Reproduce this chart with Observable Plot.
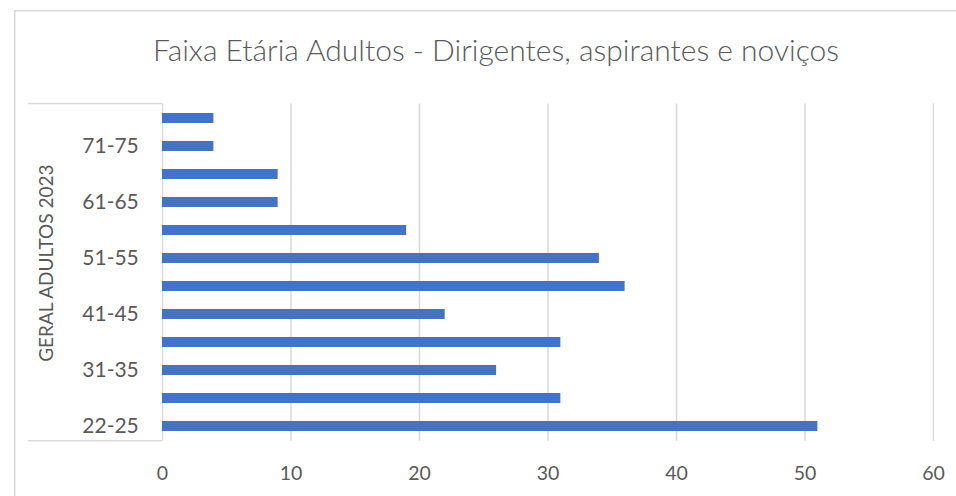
<!DOCTYPE html>
<html>
<head>
<meta charset="utf-8">
<script src="https://cdn.jsdelivr.net/npm/d3@7"></script>
<script src="https://cdn.jsdelivr.net/npm/@observablehq/plot@0.6"></script>
<style>
  html, body { margin: 0; padding: 0; background: #ffffff; }
  #chart { width: 956px; height: 496px; overflow: hidden; }
</style>
</head>
<body>
<div id="chart"></div>
<script>
// ---- data ----
const categories = ["22-25", "26-30", "31-35", "36-40", "41-45", "46-50", "51-55", "56-60", "61-65", "66-70", "71-75", "76-80"];
const values = [51, 31, 26, 31, 22, 36, 34, 19, 9, 9, 4, 4];
const xTicks = [0, 10, 20, 30, 40, 50, 60];
const shownCategoryLabels = ["22-25", "31-35", "41-45", "51-55", "61-65", "71-75"];
const titleText = "Faixa Etária Adultos - Dirigentes, aspirantes e noviços";
const groupLabel = "GERAL ADULTOS 2023";

const rows = categories.map((c, i) => ({ category: c, value: values[i] }));

const textColor = "#595959";
const gridColor = "#d9d9d9";
const barColor = "#4472c4";
const font = "Lato, 'Open Sans', sans-serif";

const plot = Plot.plot({
  width: 956,
  height: 496,
  marginLeft: 162,
  marginRight: 23,
  marginTop: 103.6,
  marginBottom: 55.25,
  style: { fontFamily: font, color: textColor, background: "#ffffff", overflow: "visible" },
  x: { domain: [0, 60] },
  y: {
    domain: categories.slice().reverse(),
    paddingInner: 0.644,
    paddingOuter: 0.322,
    align: 0.5
  },
  marks: [
    Plot.gridX(xTicks.filter(d => d > 0), { stroke: gridColor, strokeOpacity: 1, strokeWidth: 1.5 }),
    Plot.ruleX([0], { stroke: gridColor, strokeWidth: 1.5 }),
    Plot.barX(rows, { x: "value", y: "category", fill: barColor }),
    Plot.axisX(xTicks, {
      tickSize: 0, tickPadding: 24.5, fontSize: 19.5, fill: textColor, label: null
    }),
    Plot.axisY({
      tickSize: 0, tickPadding: 23.7, fontSize: 21, fill: textColor, label: null,
      tickFormat: d => shownCategoryLabels.includes(d) ? d : ""
    }),
    Plot.text([titleText], {
      text: d => d, frameAnchor: "top", dx: -52, dy: -53, lineAnchor: "middle",
      fontSize: 30, fontWeight: 300, fill: textColor
    }),
    Plot.text([groupLabel], {
      text: d => d, frameAnchor: "left", dx: -116, dy: -9.5, rotate: -90,
      lineAnchor: "middle", textAnchor: "middle", fontSize: 19, fill: textColor
    })
  ]
});

// decorative chart border and category-box lines, positioned from the plot's scales
const svg = d3.select(plot);
const xs = plot.scale("x");
const ys = plot.scale("y");
const x0 = xs.apply(0);
const [yTop, yBottom] = [Math.min(...ys.range), Math.max(...ys.range)];
const deco = svg.insert("g", ":first-child").attr("fill", "none").attr("stroke", gridColor).attr("stroke-width", 1.5);
deco.append("rect").attr("x", 14.75).attr("y", 10.75).attr("width", 1200).attr("height", 800);
deco.append("line").attr("x1", 28).attr("x2", x0).attr("y1", yTop).attr("y2", yTop);
deco.append("line").attr("x1", 28).attr("x2", x0).attr("y1", yBottom).attr("y2", yBottom);

document.getElementById("chart").appendChild(plot);
</script>
</body>
</html>
